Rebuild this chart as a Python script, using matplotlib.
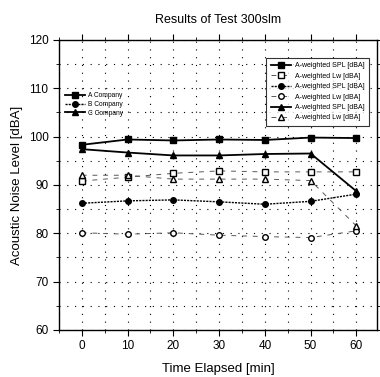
import matplotlib.pyplot as plt
from matplotlib.ticker import MultipleLocator

plt.rcParams['font.family'] = ['Liberation Sans', 'DejaVu Sans']

time_min = [0, 10, 20, 30, 40, 50, 60]

# A company
a_spl = [98.3, 99.4, 99.2, 99.4, 99.3, 99.8, 99.7]
a_lw = [90.8, 91.6, 92.4, 92.9, 92.7, 92.7, 92.7]
# B company
b_spl = [86.2, 86.7, 86.9, 86.5, 86.0, 86.6, 88.1]
b_lw = [80.1, 79.8, 80.1, 79.6, 79.3, 79.1, 80.5]
# C company
c_spl = [97.4, 96.7, 96.1, 96.1, 96.4, 96.5, 88.7]
c_lw = [92.0, 92.0, 91.2, 91.2, 91.2, 90.9, 81.5]

fig = plt.figure(figsize=(3.8, 3.77), dpi=100)
ax = fig.add_axes([0.155, 0.125, 0.837, 0.769])

ms = 4
l1, = ax.plot(time_min, a_spl, color='black', lw=1.3, marker='s', ms=ms,
              label='A-weighted SPL [dBA]')
l2, = ax.plot(time_min, a_lw, color='0.35', lw=0.7, ls=(0, (5, 6)), marker='s',
              ms=ms, mfc='white', mec='black', label='A-weighted Lw [dBA]')
l3, = ax.plot(time_min, b_spl, color='black', lw=1.0, ls=(0, (1.5, 0.8)),
              marker='o', ms=ms, label='A-weighted SPL [dBA]')
l4, = ax.plot(time_min, b_lw, color='0.35', lw=0.7, ls=(0, (5, 6)), marker='o',
              ms=ms, mfc='white', mec='black', label='A-weighted Lw [dBA]')
l5, = ax.plot(time_min, c_spl, color='black', lw=1.3, marker='^', ms=ms,
              label='A-weighted SPL [dBA]')
l6, = ax.plot(time_min, c_lw, color='0.35', lw=0.7, ls=(0, (5, 6)), marker='^',
              ms=ms, mfc='white', mec='black', label='A-weighted Lw [dBA]')

ax.set_xlim(-5, 64.5)
ax.set_ylim(60, 120)
ax.xaxis.set_major_locator(MultipleLocator(10))
ax.xaxis.set_minor_locator(MultipleLocator(5))
ax.yaxis.set_major_locator(MultipleLocator(10))
ax.yaxis.set_minor_locator(MultipleLocator(5))
ax.grid(True, which='both', color='black', ls=(0, (1, 6)), lw=0.8)
ax.tick_params(which='both', direction='out', labelsize=8.5, top=True, right=True)
ax.tick_params(which='minor', length=2)
ax.tick_params(which='major', length=4)
for s in ax.spines.values():
    s.set_linewidth(1.0)

ax.set_title('Results of Test 300slm', fontsize=9, pad=12)
ax.set_xlabel('Time Elapsed [min]', fontsize=9.5, labelpad=8)
ax.set_ylabel('Acoustic Noise Level [dBA]', fontsize=9.5, labelpad=4)

leg1 = ax.legend(handles=[l1, l2, l3, l4, l5, l6], loc='upper right',
                 bbox_to_anchor=(0.985, 0.95), fontsize=5, frameon=True,
                 fancybox=False, edgecolor='black', handlelength=3,
                 labelspacing=0.5, borderpad=0.6, handletextpad=0.5)
leg1.get_frame().set_linewidth(0.8)
ax.add_artist(leg1)

h_a, = ax.plot([], [], color='black', lw=1.3, marker='s', ms=ms)
h_b, = ax.plot([], [], color='black', lw=1.0, ls=(0, (1.5, 0.8)), marker='o', ms=ms)
h_c, = ax.plot([], [], color='black', lw=1.3, marker='^', ms=ms)
ax.legend(handles=[h_a, h_b, h_c], labels=['A Company', 'B Company', 'C Company'],
          loc='upper left', bbox_to_anchor=(0.0, 0.84), fontsize=4.8, frameon=False,
          handlelength=3, labelspacing=0.25, handletextpad=0.4)

plt.savefig('out.png', dpi=100)
